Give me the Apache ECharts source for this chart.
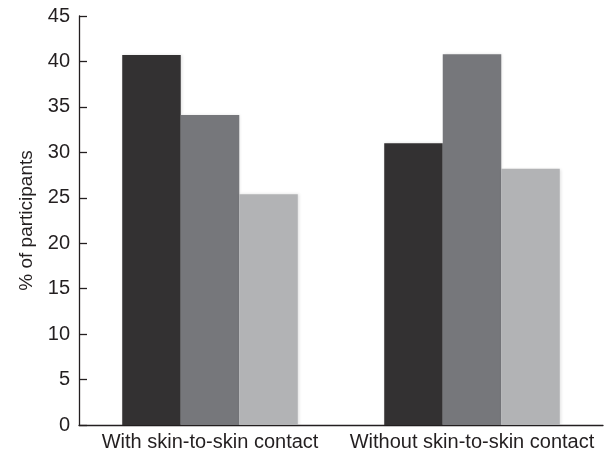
<!DOCTYPE html>
<html>
<head>
<meta charset="utf-8">
<script src="https://cdn.jsdelivr.net/npm/echarts@6/dist/echarts.min.js"></script>
<style>html,body{margin:0;padding:0;background:#fff}#c{width:605px;height:452px}</style>
</head>
<body>
<div id="c"></div>
<script>
var categories = ['With skin-to-skin contact', 'Without skin-to-skin contact'];
var seriesDark = [40.7, 31.0];
var seriesMid = [34.1, 40.8];
var seriesLight = [25.4, 28.2];
var yTicks = [0, 5, 10, 15, 20, 25, 30, 35, 40, 45];

var chart = echarts.init(document.getElementById('c'), null, {renderer: 'canvas'});
var font = 'Liberation Sans, Arial, sans-serif';
var axisColor = '#231f20';
function bar(name, data, color) {
  return {
    name: name, type: 'bar', data: data, barGap: '0%', barCategoryGap: '33%',
    itemStyle: {color: color, shadowColor: 'rgba(0,0,0,0.12)', shadowBlur: 3, shadowOffsetX: 1},
    animation: false
  };
}
chart.setOption({
  animation: false,
  grid: {left: 79, right: 2, top: 16, bottom: 27, containLabel: false},
  xAxis: {
    type: 'category', data: categories,
    axisLine: {lineStyle: {color: axisColor, width: 1.3}},
    axisTick: {inside: true, length: 7, lineStyle: {color: axisColor, width: 1.3}},
    axisLabel: {color: '#231f20', fontSize: 20, fontFamily: font, margin: 7,
      interval: 0, hideOverlap: false}
  },
  yAxis: {
    type: 'value', min: 0, max: 45, interval: 5,
    name: '% of participants', nameLocation: 'middle', nameGap: 43,
    nameTextStyle: {color: '#231f20', fontSize: 19, fontFamily: font},
    axisLine: {show: true, lineStyle: {color: axisColor, width: 1.3}},
    axisTick: {show: true, inside: true, length: 8, lineStyle: {color: axisColor, width: 1.3}},
    splitLine: {show: false},
    axisLabel: {color: '#231f20', fontSize: 20, fontFamily: font, margin: 9,
      formatter: function (v) { return yTicks.indexOf(v) >= 0 ? String(v) : ''; }}
  },
  series: [
    bar('Group A', seriesDark, '#333132'),
    bar('Group B', seriesMid, '#76777b'),
    bar('Group C', seriesLight, '#b2b3b5')
  ]
});
</script>
</body>
</html>
